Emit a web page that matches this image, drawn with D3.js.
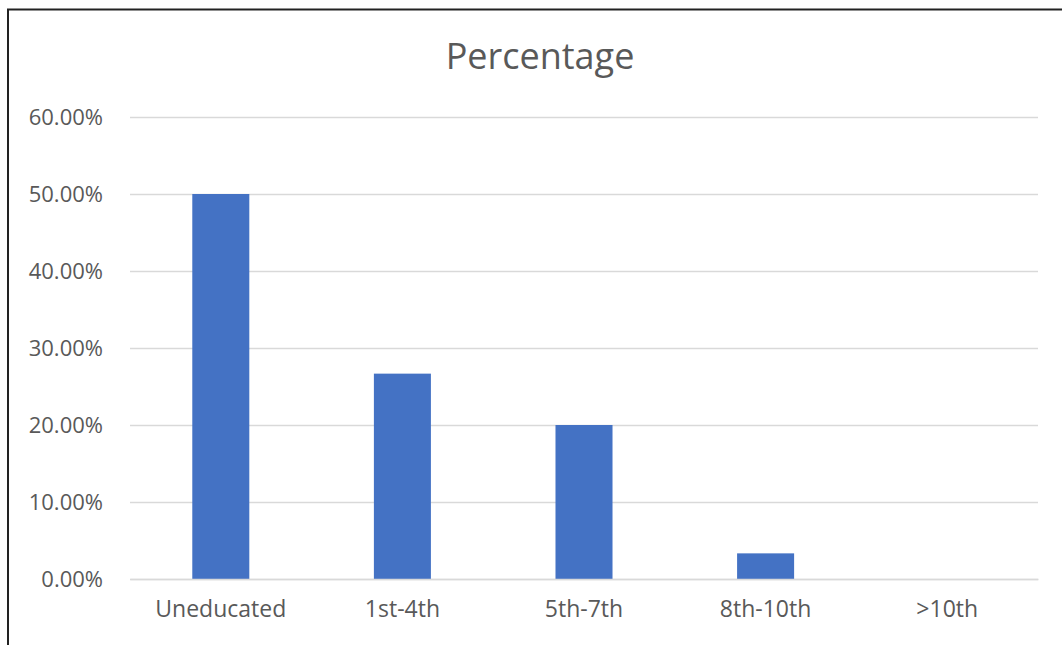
<!DOCTYPE html>
<html>
<head>
<meta charset="utf-8">
<script src="https://cdn.jsdelivr.net/npm/d3@7"></script>
<style>
  html, body { margin: 0; padding: 0; background: #fff; overflow: hidden; }
  svg { display: block; }
  text { font-family: "Open Sans", "Noto Sans", sans-serif; fill: #595959; }
</style>
</head>
<body>
<svg id="chart" width="1062" height="645"></svg>
<script>
// Share of respondents by education level
const categories = ["Uneducated", "1st-4th", "5th-7th", "8th-10th", ">10th"];
const percentages = [50.00, 26.67, 20.00, 3.33, 0.00];
const yTicks = [0, 10, 20, 30, 40, 50, 60];
const chartTitle = "Percentage";

const W = 1062, H = 645;
const plot = { left: 130, right: 1038, top: 117, bottom: 579 };

const svg = d3.select("#chart");

// outer frame (left and top edges visible)
svg.append("rect")
  .attr("x", 8).attr("y", 9.5)
  .attr("width", W + 20).attr("height", H + 20)
  .attr("fill", "none")
  .attr("stroke", "#222")
  .attr("stroke-width", 2);

const x = d3.scaleBand()
  .domain(categories)
  .range([plot.left, plot.right])
  .paddingInner(0.686)
  .paddingOuter(0.343);

const y = d3.scaleLinear()
  .domain([0, 60])
  .range([plot.bottom, plot.top]);

// gridlines and value axis labels
const yAxis = d3.axisLeft(y)
  .tickValues(yTicks)
  .tickSize(-(plot.right - plot.left))
  .tickPadding(27)
  .tickFormat(d => d.toFixed(2) + "%");

const gy = svg.append("g")
  .attr("transform", `translate(${plot.left},0)`)
  .call(yAxis);
gy.select(".domain").remove();
gy.selectAll(".tick line")
  .attr("stroke", "#d9d9d9")
  .attr("stroke-width", 1.5);
gy.selectAll(".tick text")
  .style("font-size", "22px")
  .attr("fill", "#5f5f5f");

// bars
svg.append("g")
  .selectAll("rect")
  .data(categories.map((c, i) => ({ c, v: percentages[i] })))
  .join("rect")
  .attr("x", d => x(d.c))
  .attr("width", x.bandwidth())
  .attr("y", d => y(d.v))
  .attr("height", d => y(0) - y(d.v))
  .attr("fill", "#4472c4");

// category axis
const xAxis = d3.axisBottom(x).tickSize(0).tickPadding(22);
const gx = svg.append("g")
  .attr("transform", `translate(0,${plot.bottom})`)
  .call(xAxis);
gx.select(".domain")
  .attr("stroke", "#d9d9d9")
  .attr("stroke-width", 1.5);
gx.selectAll(".tick text")
  .style("font-size", "23px")
  .attr("fill", "#5f5f5f");

// title
svg.append("text")
  .attr("x", 540)
  .attr("y", 69)
  .attr("text-anchor", "middle")
  .style("font-size", "36px")
  .text(chartTitle);
</script>
</body>
</html>
